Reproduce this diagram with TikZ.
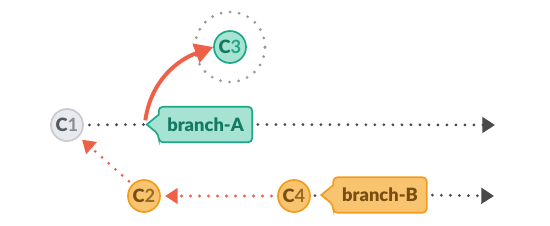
\documentclass[tikz,border=0pt]{standalone}
\usepackage{fontspec}
\setmainfont{Lato}
\newfontfamily\heavyfont{Lato Black}
\usetikzlibrary{arrows.meta,backgrounds}
\definecolor{greyfill}{HTML}{E9EAEF}
\definecolor{greyline}{HTML}{C9CACF}
\definecolor{greytext}{HTML}{555A60}
\definecolor{greydigit}{HTML}{8A8D93}
\definecolor{tealfill}{HTML}{A6E3D3}
\definecolor{tealline}{HTML}{1EA888}
\definecolor{tealtext}{HTML}{137A62}
\definecolor{orangefill}{HTML}{F9C46F}
\definecolor{orangeline}{HTML}{F29C1F}
\definecolor{orangetext}{HTML}{7A4E12}
\definecolor{orangedigit}{HTML}{9A6A20}
\definecolor{redline}{HTML}{EF6048}
\definecolor{dotgray}{HTML}{4A4A4A}
\definecolor{ringgray}{HTML}{9A9A9A}
\newcommand\commitlabel[3]{{\color{#1}\heavyfont C}{\color{#2}\bfseries#3}}
\begin{document}
\begin{tikzpicture}[x=0.025cm, y=-0.025cm, font=\fontsize{13}{15}\selectfont,
  commit/.style={circle, draw, line width=1.2pt, minimum size=0.8cm, inner sep=0pt},
  tagbox/.style={minimum width=2.325cm, minimum height=0.875cm, inner sep=0pt, font=\fontsize{13}{15}\selectfont\heavyfont},
  tagedge/.style={line width=1.2pt, rounded corners=3pt},
  dots/.style={line width=2.2pt, line cap=round, dash pattern=on 0pt off 6.4pt},
  head/.style={-{Triangle[length=9pt,width=11pt]}}]
  \useasboundingbox (0,0) rectangle (550,225);
  % commits
  \node[commit, fill=greyfill, draw=greyline] (C1) at (67,125) {\commitlabel{greytext}{greydigit}{1}};
  \node[commit, fill=tealfill, draw=tealline] (C3) at (230,47) {\commitlabel{tealtext}{tealline}{3}};
  \node[commit, fill=orangefill, draw=orangeline] (C2) at (144,196) {\commitlabel{orangetext}{orangedigit}{2}};
  \node[commit, fill=orangefill, draw=orangeline] (C4) at (294,196) {\commitlabel{orangetext}{orangedigit}{4}};
  \draw[dots, ringgray, dash pattern=on 0pt off 6.5pt] (C3.center) circle (0.875cm);
  % branch tags
  \node[tagbox, text=tealtext] (brA) at (205.5,124.5) {branch-A};
  \node[tagbox, text=orangetext] (brB) at (380,195) {branch-B};
  \coordinate (tipA) at ([xshift=-8.5pt]brA.west);
  \coordinate (tipB) at ([xshift=-8.5pt]brB.west);
  \begin{scope}[on background layer]
    \draw[tagedge, draw=tealline, fill=tealfill] (brA.north west) -- (brA.north east) -- (brA.south east) -- (brA.south west) -- ([yshift=-7pt]brA.west) [sharp corners] -- (tipA) -- ([yshift=7pt]brA.west) [rounded corners=3pt] -- cycle;
    \draw[tagedge, draw=orangeline, fill=orangefill] (brB.north west) -- (brB.north east) -- (brB.south east) -- (brB.south west) -- ([yshift=-7pt]brB.west) [sharp corners] -- (tipB) -- ([yshift=7pt]brB.west) [rounded corners=3pt] -- cycle;
  \end{scope}
  \coordinate (endA) at (495,125);
  \coordinate (endB) at (494,196);
  % history lines
  \draw[dots, dotgray, shorten <=4pt] (C1.east) -- (tipA);
  \draw[dots, dotgray, head, shorten <=4pt] (brA.east) -- (endA);
  \draw[dots, dotgray, shorten <=3pt] (C4.east) -- (tipB);
  \draw[dots, dotgray, head, shorten <=4pt] (brB.east) -- (endB);
  % moves
  \draw[dots, redline, head, shorten <=4pt, shorten >=3pt] (C4.west) -- (C2.east);
  \draw[dots, redline, head, shorten <=3pt, shorten >=3pt] (C2.north west) -- (C1.south east);
  \draw[redline, line width=2.8pt, -{Triangle[length=13pt,width=14pt]}] ([shift={(-1pt,3pt)}]tipA) to[out=82, in=200] (C3.west);
\end{tikzpicture}
\end{document}
